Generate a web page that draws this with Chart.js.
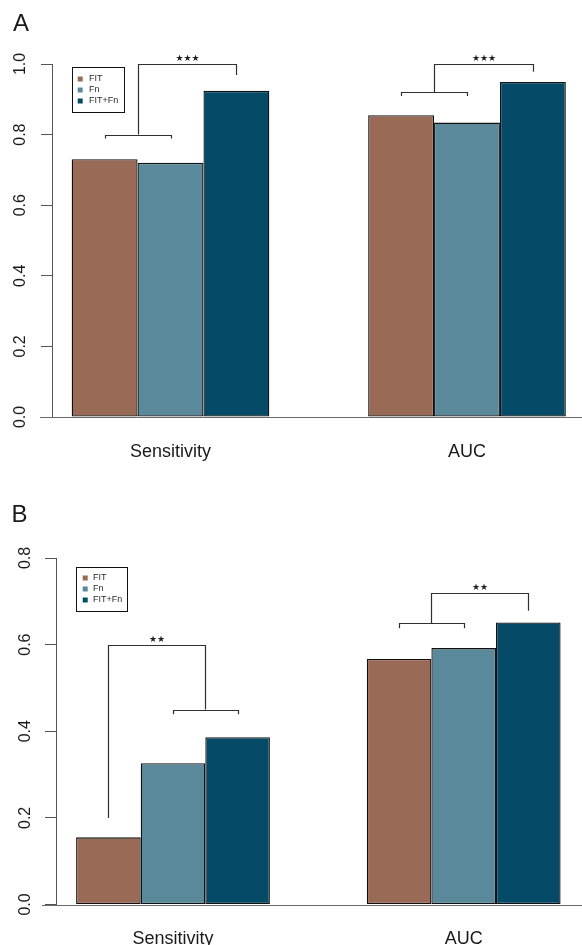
<!DOCTYPE html>
<html><head><meta charset="utf-8">
<script src="https://cdn.jsdelivr.net/npm/chart.js@4.4.1/dist/chart.umd.min.js"></script>
<style>
html,body{margin:0;padding:0;background:#fff;width:582px;height:945px;overflow:hidden}
.w{position:absolute;left:0;width:582px}
#wa{top:0;height:472px}
#wb{top:472px;height:473px}
canvas{display:block}
</style></head><body>
<div class="w" id="wa"><canvas id="ca" width="582" height="472"></canvas></div>
<div class="w" id="wb"><canvas id="cb" width="582" height="473"></canvas></div>
<script>
// ---- data ----
const categories = ['Sensitivity', 'AUC'];
const seriesNames = ['FIT', 'Fn', 'FIT+Fn'];
const panelLabels = ['A', 'B'];

const panelA_FIT   = [0.730, 0.855];
const panelA_Fn    = [0.720, 0.834];
const panelA_FITFn = [0.924, 0.949];
const panelA_ticks = [0, 0.2, 0.4, 0.6, 0.8, 1.0];

const panelB_FIT   = [0.155, 0.567];
const panelB_Fn    = [0.326, 0.592];
const panelB_FITFn = [0.386, 0.651];
const panelB_ticks = [0, 0.2, 0.4, 0.6, 0.8];

// significance brackets: bars joined (series indices), top level, end levels, stars
const panelA_sig = [
  {cat: 0, left: [0], right: [1], top: 0.80, ends: [0.789, 0.789], label: ''},
  {cat: 0, left: [0, 1], right: [2], top: 1.0, ends: [0.80, 0.969], label: '★★★'},
  {cat: 1, left: [0], right: [1], top: 0.921, ends: [0.909, 0.909], label: ''},
  {cat: 1, left: [0, 1], right: [2], top: 1.0, ends: [0.921, 0.978], label: '★★★'}
];
const panelB_sig = [
  {cat: 0, left: [1], right: [2], top: 0.45, ends: [0.439, 0.439], label: ''},
  {cat: 0, left: [0], right: [1, 2], top: 0.60, ends: [0.20, 0.45], label: '★★'},
  {cat: 1, left: [0], right: [1], top: 0.65, ends: [0.638, 0.638], label: ''},
  {cat: 1, left: [0, 1], right: [2], top: 0.72, ends: [0.65, 0.678], label: '★★'}
];

// ---- styles ----
const seriesColors = ['#996a56', '#5a899c', '#054a66'];
const FONT = '"Liberation Sans", Arial, Helvetica, sans-serif';

const deco = {
  id: 'deco',
  afterDraw(chart, args, o) {
    const ctx = chart.ctx, xs = chart.scales.x, ys = chart.scales.y, ca = chart.chartArea;
    const px = v => Math.round(v) + 0.5;
    ctx.save();
    // baseline at zero
    const y0 = px(ys.getPixelForValue(0));
    ctx.strokeStyle = '#6a6a6a'; ctx.lineWidth = 1;
    ctx.beginPath(); ctx.moveTo(ca.left - o.baseExt, y0); ctx.lineTo(chart.width, y0); ctx.stroke();

    // y tick labels (rotated, R style)
    ctx.fillStyle = '#1a1a1a';
    ctx.font = '16px ' + FONT; ctx.textAlign = 'center'; ctx.textBaseline = 'alphabetic';
    ys.ticks.forEach(t => {
      const y = ys.getPixelForValue(t.value);
      ctx.save();
      ctx.translate(ca.left - o.tickLabelOffset + 5.8, y);
      ctx.rotate(-Math.PI / 2);
      ctx.fillText(t.value.toFixed(1), 0, 0);
      ctx.restore();
    });

    // category labels
    ctx.font = '18px ' + FONT; ctx.textAlign = 'center'; ctx.textBaseline = 'alphabetic';
    xs.ticks.forEach(t => {
      ctx.fillText(categories[t.value], xs.getPixelForValue(t.value), ca.bottom + o.xLabelBase);
    });

    // panel letter
    ctx.font = '24px ' + FONT; ctx.textAlign = 'left';
    ctx.fillText(o.panel, o.panelX, o.panelY);

    // brackets
    const barX = (cat, idxs) => idxs.reduce((s, k) => s + chart.getDatasetMeta(k).data[cat].x, 0) / idxs.length;
    ctx.strokeStyle = '#303030'; ctx.lineWidth = 1.2;
    o.sig.forEach(b => {
      const xl = px(barX(b.cat, b.left)), xr = px(barX(b.cat, b.right));
      const yt = px(ys.getPixelForValue(b.top));
      const yl = ys.getPixelForValue(b.ends[0]), yr = ys.getPixelForValue(b.ends[1]);
      ctx.beginPath(); ctx.moveTo(xl, yl); ctx.lineTo(xl, yt); ctx.lineTo(xr, yt); ctx.lineTo(xr, yr); ctx.stroke();
      if (b.label) {
        ctx.fillStyle = '#222';
        ctx.font = '9px "DejaVu Sans", sans-serif'; ctx.textAlign = 'center'; ctx.textBaseline = 'alphabetic';
        ctx.fillText(b.label, (xl + xr) / 2, yt - 3.5);
      }
    });

    // legend box
    const L = o.legend;
    const lx = ca.left + L.dx, ly = ca.top + L.dy;
    ctx.strokeStyle = '#111'; ctx.lineWidth = 1;
    ctx.strokeRect(Math.round(lx) + 0.5, Math.round(ly) + 0.5, L.w, L.h);
    ctx.font = '9px ' + FONT; ctx.textAlign = 'left'; ctx.textBaseline = 'middle';
    chart.data.datasets.forEach((ds, k) => {
      const cy = ly + L.row0 + k * 11;
      ctx.fillStyle = ds.backgroundColor;
      ctx.fillRect(lx + L.sq, cy - 2.5, 5, 5);
      ctx.fillStyle = '#2a2a2a';
      ctx.fillText(ds.label, lx + 17, cy);
    });
    ctx.restore();
  }
};

function makeChart(id, series, ticks, ymax, cfg) {
  const datasets = series.map((vals, k) => ({
    label: seriesNames[k],
    data: vals.map((v, i) => ({x: i, y: v})),
    backgroundColor: seriesColors[k],
    borderColor: '#111',
    borderWidth: 1.3,
    borderSkipped: false,
    categoryPercentage: 2 / 3,
    barPercentage: 1
  }));
  return new Chart(document.getElementById(id), {
    type: 'bar',
    data: {datasets},
    options: {
      responsive: false,
      animation: false,
      devicePixelRatio: 1,
      layout: {padding: cfg.pad},
      plugins: {
        legend: {display: false},
        tooltip: {enabled: false},
        deco: cfg.deco
      },
      scales: {
        x: {
          type: 'linear', min: cfg.xmin, max: cfg.xmax, offset: false,
          afterBuildTicks: s => { s.ticks = categories.map((c, i) => ({value: i})); },
          grid: {display: false, drawTicks: false, offset: false},
          border: {display: false},
          ticks: {display: false}
        },
        y: {
          min: 0, max: ymax,
          afterBuildTicks: s => { s.ticks = ticks.map(v => ({value: v})); },
          grid: {drawOnChartArea: false, drawTicks: true, tickLength: 11, color: '#555', lineWidth: 1},
          border: {display: true, color: '#555', width: 1},
          ticks: {display: false}
        }
      }
    },
    plugins: [deco]
  });
}

makeChart('ca', [panelA_FIT, panelA_Fn, panelA_FITFn], panelA_ticks, 1.0, {
  pad: {top: 64, left: 41, right: 0, bottom: 55},
  xmin: -0.3997, xmax: 1.3879,
  deco: {
    panel: panelLabels[0], panelX: 13, panelY: 31,
    baseExt: 12, tickLabelOffset: 33.2, xLabelBase: 40,
    sig: panelA_sig,
    legend: {dx: 20, dy: 3, w: 52, h: 45, row0: 12, sq: 5.7}
  }
});

makeChart('cb', [panelB_FIT, panelB_Fn, panelB_FITFn], panelB_ticks, 0.8, {
  pad: {top: 86, left: 45, right: 0, bottom: 40.5},
  xmin: -0.4025, xmax: 1.407,
  deco: {
    panel: panelLabels[1], panelX: 11.5, panelY: 50,
    baseExt: 14, tickLabelOffset: 31.5, xLabelBase: 39,
    sig: panelB_sig,
    legend: {dx: 20, dy: 9.3, w: 51, h: 44, row0: 10.7, sq: 6.7}
  }
});
</script>
</body></html>
